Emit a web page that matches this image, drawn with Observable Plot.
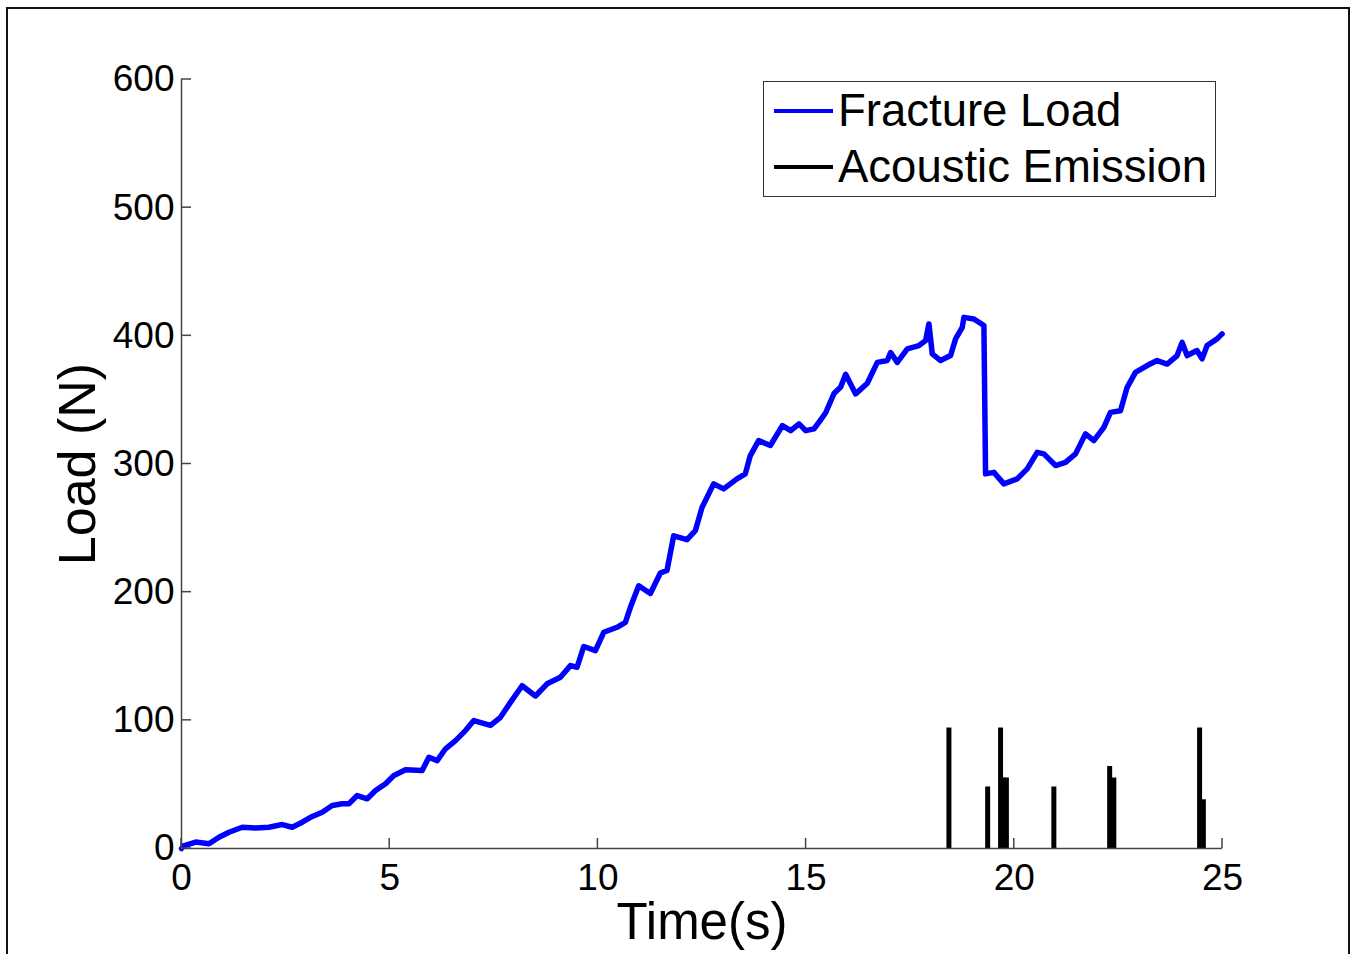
<!DOCTYPE html>
<html><head><meta charset="utf-8">
<script src="https://cdn.jsdelivr.net/npm/d3@7"></script>
<script src="https://cdn.jsdelivr.net/npm/@observablehq/plot@0.6"></script>
<style>
html,body{margin:0;padding:0;background:#fff;overflow:hidden}
#wrap{position:relative;width:1357px;height:954px;font-family:"Liberation Sans",Arial,Helvetica,sans-serif}
#frame{position:absolute;left:6px;top:7px;width:1340px;height:1000px;border:2px solid #111;box-sizing:content-box}
#chart{position:absolute;left:0;top:0}
#legend{position:absolute;left:763px;top:81px;width:451px;height:114px;border:1.5px solid #333;background:#fff}
.row{position:absolute;left:10px;height:44px;display:flex;align-items:center;font-size:45.5px;color:#000;white-space:nowrap}
.sw{width:59px;height:4px;margin-right:5px}
</style></head>
<body><div id="wrap"><div id="frame"></div><div id="chart"></div>
<div id="legend">
 <div class="row" style="top:7px"><div class="sw" style="background:#0000ff"></div><span>Fracture Load</span></div>
 <div class="row" style="top:63px"><div class="sw" style="background:#000"></div><span>Acoustic Emission</span></div>
</div></div>
<script>
const xTicks = [0, 5, 10, 15, 20, 25];
const yTicks = [0, 100, 200, 300, 400, 500, 600];
const xLabel = "Time(s)";
const yLabel = "Load (N)";

const timeS = [0, 0.05, 0.34, 0.66, 0.9, 1.14, 1.46, 1.78, 2.1, 2.42, 2.66, 2.9, 3.14, 3.38, 3.62, 3.86, 4.02, 4.22, 4.46, 4.66, 4.9,
  5.1, 5.38, 5.78, 5.94, 6.14, 6.34, 6.58, 6.82, 7.02, 7.42, 7.66, 7.9, 8.18, 8.5, 8.78, 9.1, 9.34, 9.5, 9.66, 9.94,
  10.14, 10.46, 10.66, 10.78, 10.98, 11.26, 11.5, 11.66, 11.82, 12.14, 12.34, 12.5, 12.78, 13.02, 13.34, 13.54, 13.66, 13.86,
  14.14, 14.43, 14.63, 14.83, 14.99, 15.19, 15.35, 15.47, 15.67, 15.83, 15.95, 16.19, 16.47, 16.71, 16.95, 17.03, 17.19,
  17.43, 17.71, 17.87, 17.95, 18.03, 18.23, 18.47, 18.59, 18.75, 18.79, 19.03, 19.27, 19.31, 19.51, 19.75, 20.07, 20.31,
  20.55, 20.71, 20.99, 21.23, 21.47, 21.71, 21.91, 22.15, 22.31, 22.55, 22.71, 22.91, 23.19, 23.43, 23.67, 23.91, 24.03,
  24.15, 24.39, 24.51, 24.63, 24.87, 24.99];
const loadN = [0, 2, 5, 3.7, 8.8, 12.7, 16.6, 16, 16.6, 18.7, 16.6, 20.5, 25, 28.3, 33.5, 34.9, 34.9, 41.3, 38.8, 45.2, 50.5,
  56.9, 61.4, 60.8, 71.2, 68.6, 77.8, 84.2, 92, 99.8, 96, 102.4, 114, 127, 119, 128.5, 133.6, 142.7, 141.4, 157.6, 154.4,
  168.7, 172.6, 176.5, 188.2, 205, 199, 215, 217, 244, 241, 248, 266, 284.5, 280.6, 288.4, 292.3, 306.6, 318.3,
  314.4, 330, 326, 331.3, 326, 327.4, 334.5, 340, 355, 360, 370, 354.7, 363, 379.3, 380.7, 387, 379.3,
  389.8, 392.4, 396.3, 409.3, 385.9, 380.7, 384.6, 397.6, 406.6, 414.4, 413.2, 408, 292.3, 293.5, 284.5, 288.4, 296.2,
  309.1, 307.9, 298.8, 301.3, 307.9, 323.5, 318.3, 328.6, 340.3, 341.6, 359.8, 371.5, 376.8, 380.7, 378, 384.6, 394.9,
  384.6, 388.5, 382, 392.4, 397.6, 401.5];

const aeTime = [18.43, 19.36, 19.67, 19.74, 19.81, 20.95, 22.29, 22.39, 24.45, 24.54];
const aeAmp  = [94, 48, 94, 55, 55, 48, 64, 55, 94, 38];

const loadData = timeS.map((t, i) => ({t, v: loadN[i]}));
const aeData = aeTime.map((t, i) => ({t, a: aeAmp[i]}));

// inward tick marks drawn from the plot's own scales
function inwardTicks(index, scales) {
  const g = d3.create("svg:g").attr("stroke", "#444").attr("stroke-width", 1.5);
  const x0 = scales.x(0), y0 = scales.y(0);
  for (const t of xTicks) {
    const x = scales.x(t);
    g.append("line").attr("x1", x).attr("x2", x).attr("y1", y0).attr("y2", y0 - 10);
  }
  for (const v of yTicks) {
    const y = scales.y(v);
    g.append("line").attr("x1", x0).attr("x2", x0 + 10).attr("y1", y).attr("y2", y);
  }
  return g.node();
}

const chart = Plot.plot({
  width: 1357, height: 954,
  marginLeft: 181, marginRight: 135, marginTop: 79, marginBottom: 106,
  style: {fontFamily: '"Liberation Sans", Arial, Helvetica, sans-serif', color: "#000", background: "transparent", overflow: "visible"},
  x: {domain: [0, 25]},
  y: {domain: [0, 600]},
  marks: [
    Plot.ruleX(aeData, {x: "t", y1: 0, y2: "a", stroke: "#000", strokeWidth: 5}),
    Plot.line(loadData, {x: "t", y: "v", stroke: "#0000ff", strokeWidth: 5.5, strokeLinejoin: "round"}),
    Plot.ruleX([0], {stroke: "#444", strokeWidth: 1.5}),
    Plot.ruleY([0], {stroke: "#444", strokeWidth: 1.5}),
    inwardTicks,
    Plot.axisX({ticks: xTicks, tickSize: 0, tickPadding: 15, fontSize: 37, label: null}),
    Plot.axisY({ticks: yTicks, tickSize: 0, tickPadding: 7, fontSize: 37, label: null}),
    Plot.text([xLabel], {frameAnchor: "bottom", dy: 90, lineAnchor: "bottom", fontSize: 51, fill: "#000"}),
    Plot.text([yLabel], {frameAnchor: "left", dx: -87, rotate: -90, textAnchor: "middle", lineAnchor: "bottom", fontSize: 52, fill: "#000"})
  ]
});
document.getElementById("chart").appendChild(chart);
</script>
</body></html>
